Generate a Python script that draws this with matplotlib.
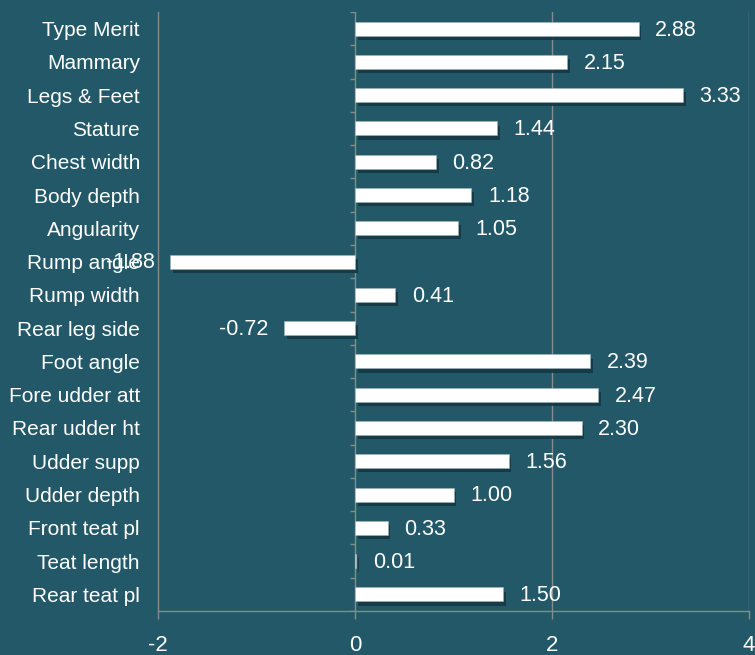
import matplotlib
matplotlib.use("Agg")
import matplotlib.pyplot as plt
import matplotlib.patheffects as pe
import numpy as np

# data
traits = ["Type Merit", "Mammary", "Legs & Feet", "Stature", "Chest width",
          "Body depth", "Angularity", "Rump angle", "Rump width", "Rear leg side",
          "Foot angle", "Fore udder att", "Rear udder ht", "Udder supp",
          "Udder depth", "Front teat pl", "Teat length", "Rear teat pl"]
values = [2.88, 2.15, 3.33, 1.44, 0.82, 1.18, 1.05, -1.88, 0.41, -0.72,
          2.39, 2.47, 2.30, 1.56, 1.00, 0.33, 0.01, 1.50]
x_ticks = [-2, 0, 2, 4]

bg = "#225868"
grid_col = "#8a8a8a"
plt.rcParams["font.family"] = ["Liberation Sans", "DejaVu Sans"]

fig = plt.figure(figsize=(7.55, 6.55), dpi=100, facecolor=bg)
ax = fig.add_axes([158 / 755, 1 - 611 / 655, 591 / 755, 599 / 655])
ax.set_facecolor(bg)

y = np.arange(len(traits))
shadow = [pe.SimplePatchShadow(offset=(2, -3), shadow_rgbFace="#143844", alpha=0.9),
          pe.Normal()]
bars = ax.barh(y, values, height=0.42, color="white", edgecolor="#9fb4ba",
               linewidth=0.4, zorder=3, path_effects=shadow)

for b, v in zip(bars, values):
    off = 12 if v >= 0 else -11
    ax.annotate(f"{v:.2f}", xy=(v, b.get_y() + b.get_height() / 2),
                xytext=(off, -1), textcoords="offset points",
                ha="left" if v >= 0 else "right", va="center",
                color="white", fontsize=15.5, zorder=4)

ax.set_xlim(-2, 4)
ax.set_ylim(len(traits) - 0.5, -0.5)
ax.set_xticks(x_ticks)
ax.set_xticklabels([str(t) for t in x_ticks])
ax.set_yticks(y)
ax.set_yticklabels(traits)

# vertical grid lines and small ticks on the zero line
for xv in x_ticks[1:]:
    ax.axvline(xv, color=grid_col, lw=1.0, zorder=1)
ax.hlines(np.arange(len(traits) + 1) - 0.5, -0.05, 0, color=grid_col, lw=1.0, zorder=1)

for side in ["top", "right"]:
    ax.spines[side].set_visible(False)
for side in ["left", "bottom"]:
    ax.spines[side].set_color(grid_col)
    ax.spines[side].set_linewidth(1.0)

ax.tick_params(axis="y", length=0, pad=13, labelcolor="white", labelsize=15)
ax.tick_params(axis="x", length=6, width=1.0, color=grid_col, pad=11,
               labelcolor="white", labelsize=16)

fig.savefig("out.png", dpi=100, facecolor=bg)
